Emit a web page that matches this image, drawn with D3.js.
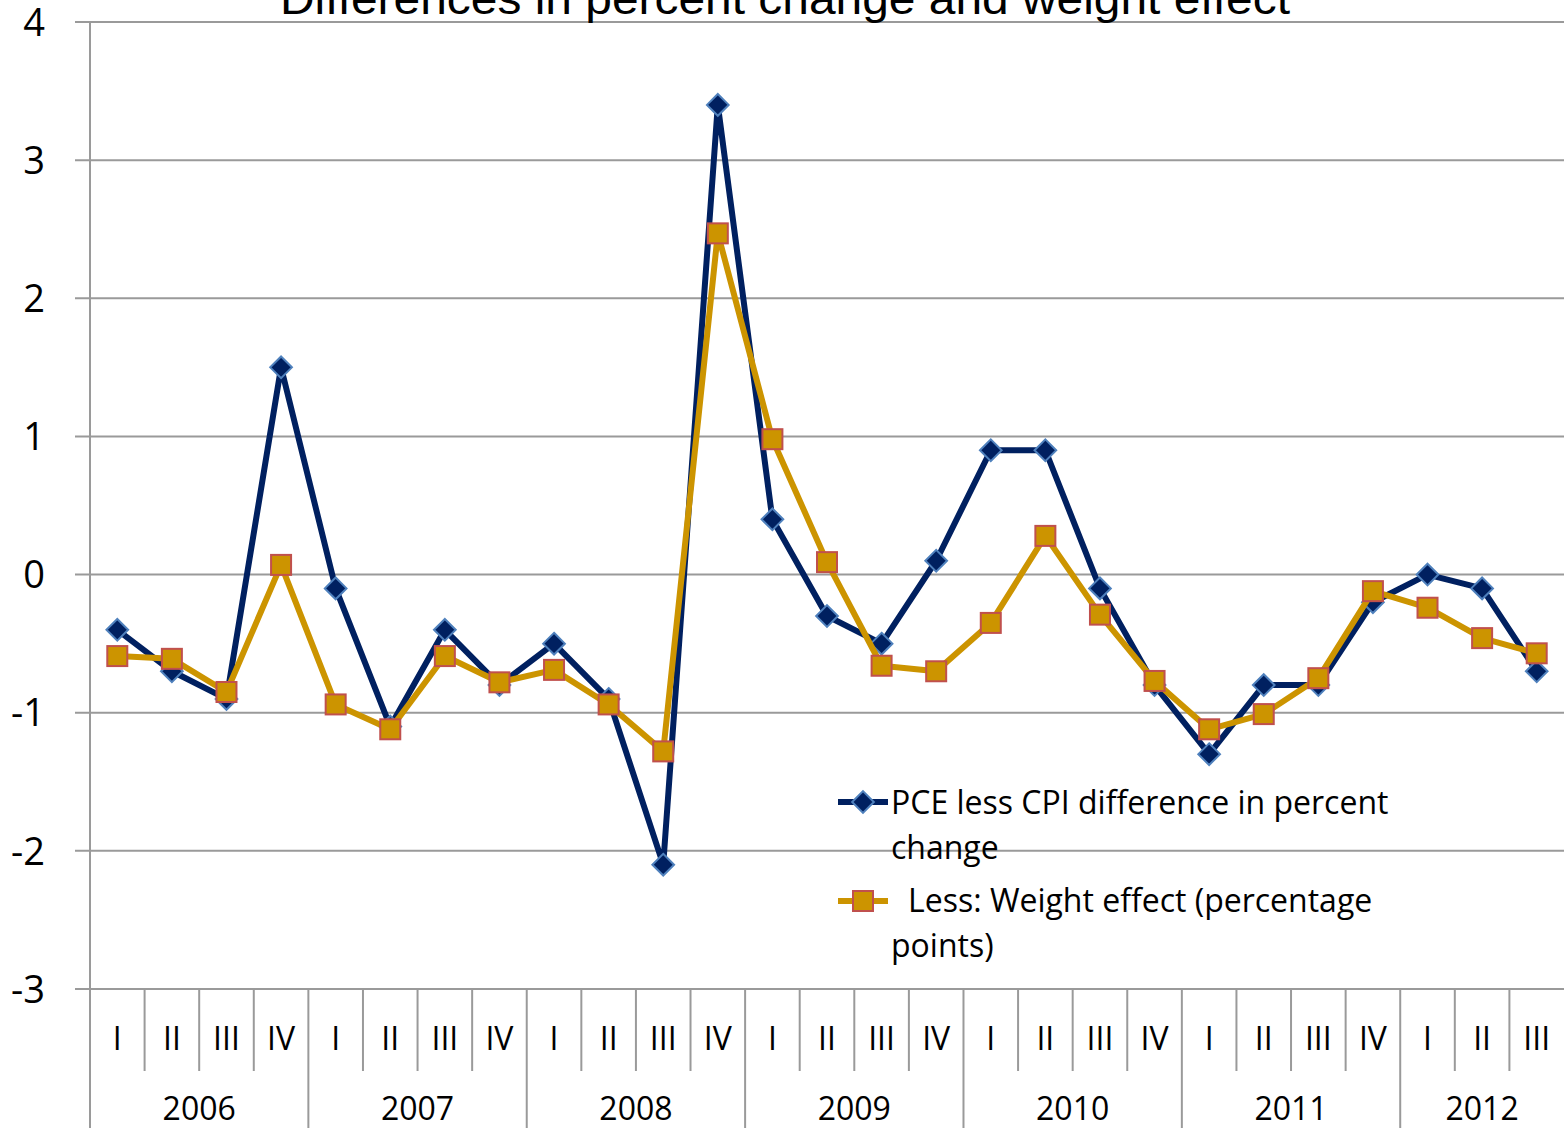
<!DOCTYPE html>
<html>
<head>
<meta charset="utf-8">
<script src="https://cdn.jsdelivr.net/npm/d3@7"></script>
<style>
  body { margin: 0; background: #fff; }
  svg { display: block; }
  .lbl { font-family: "Open Sans", Lato, sans-serif; fill: #000; }
</style>
</head>
<body>
<svg width="1564" height="1128"></svg>
<script>
// data
var years = ["2006", "2007", "2008", "2009", "2010", "2011", "2012"];
var quarters = ["I", "II", "III", "IV", "I", "II", "III", "IV", "I", "II", "III", "IV", "I", "II", "III", "IV",
                "I", "II", "III", "IV", "I", "II", "III", "IV", "I", "II", "III"];
var pceLessCpi = [-0.4, -0.7, -0.9, 1.5, -0.1, -1.1, -0.4, -0.8, -0.5, -0.9, -2.1, 3.4,
                  0.4, -0.3, -0.5, 0.1, 0.9, 0.9, -0.1, -0.8, -1.3, -0.8, -0.8, -0.2, 0.0, -0.1, -0.7];
var weightEffect = [-0.59, -0.61, -0.85, 0.07, -0.94, -1.12, -0.59, -0.78, -0.69, -0.94, -1.28, 2.47,
                    0.98, 0.09, -0.66, -0.70, -0.35, 0.28, -0.29, -0.77, -1.12, -1.01, -0.75, -0.12, -0.24, -0.46, -0.57];
var yTicks = [-3, -2, -1, 0, 1, 2, 3, 4];

var svg = d3.select("svg"),
    margin = {top: 22, right: 0, bottom: 139, left: 90},
    width = +svg.attr("width") - margin.left - margin.right,
    height = +svg.attr("height") - margin.top - margin.bottom;

var idx = d3.range(quarters.length);
var x = d3.scaleBand().domain(idx).range([0, width]);
var y = d3.scaleLinear().domain([-3, 4]).range([height, 0]);
var cx = function(i) { return x(i) + x.bandwidth() / 2; };

var g = svg.append("g")
    .attr("transform", "translate(" + margin.left + "," + margin.top + ")");

var grid = "#9a9a9a";

// gridlines with small outside ticks
g.append("g").selectAll("line")
    .data(yTicks)
    .enter().append("line")
    .attr("x1", -15).attr("x2", width)
    .attr("y1", function(d) { return y(d); })
    .attr("y2", function(d) { return y(d); })
    .attr("stroke", grid).attr("stroke-width", 2);

g.append("g").selectAll("text")
    .data(yTicks)
    .enter().append("text")
    .attr("class", "lbl")
    .attr("x", -45).attr("y", function(d) { return y(d); })
    .attr("dy", "0.36em")
    .attr("text-anchor", "end")
    .style("font-size", "38px")
    .text(function(d) { return d; });

// y axis line running down through the category labels
g.append("line")
    .attr("x1", 0).attr("x2", 0)
    .attr("y1", 0).attr("y2", height + margin.bottom)
    .attr("stroke", grid).attr("stroke-width", 2);

// quarter separators
g.append("g").selectAll("line")
    .data(idx.slice(1))
    .enter().append("line")
    .attr("x1", function(i) { return x(i); })
    .attr("x2", function(i) { return x(i); })
    .attr("y1", height)
    .attr("y2", function(i) { return i % 4 == 0 ? height + margin.bottom : height + 82; })
    .attr("stroke", grid).attr("stroke-width", 2);

g.append("g").selectAll("text")
    .data(idx)
    .enter().append("text")
    .attr("class", "lbl")
    .attr("x", cx)
    .attr("y", height + 61)
    .attr("text-anchor", "middle")
    .style("font-size", "32px")
    .text(function(i) { return quarters[i]; });

g.append("g").selectAll("text")
    .data(years)
    .enter().append("text")
    .attr("class", "lbl")
    .attr("x", function(d, k) {
        var a = k * 4, b = Math.min(a + 3, quarters.length - 1);
        return (x(a) + x(b) + x.bandwidth()) / 2;
    })
    .attr("y", height + 131)
    .attr("text-anchor", "middle")
    .style("font-size", "32px")
    .text(function(d) { return d; });

// lines
var navy = "#002060", gold = "#CC9400";
var line = function(vals) {
    return d3.line().x(function(d, i) { return cx(i); }).y(function(d) { return y(d); })(vals);
};

g.append("path").attr("d", line(pceLessCpi))
    .attr("fill", "none").attr("stroke", navy).attr("stroke-width", 6).attr("stroke-linejoin", "round");

g.append("g").selectAll("path")
    .data(pceLessCpi)
    .enter().append("path")
    .attr("d", d3.symbol().type(d3.symbolDiamond2).size(300))
    .attr("transform", function(d, i) { return "translate(" + cx(i) + "," + y(d) + ")"; })
    .attr("fill", navy).attr("stroke", "#4F81BD").attr("stroke-width", 2);

g.append("path").attr("d", line(weightEffect))
    .attr("fill", "none").attr("stroke", gold).attr("stroke-width", 6).attr("stroke-linejoin", "round");

g.append("g").selectAll("rect")
    .data(weightEffect)
    .enter().append("rect")
    .attr("x", function(d, i) { return cx(i) - 10; })
    .attr("y", function(d) { return y(d) - 10; })
    .attr("width", 20).attr("height", 20)
    .attr("fill", gold).attr("stroke", "#C0504D").attr("stroke-width", 2);

// title (clipped at top edge like original)
svg.append("text")
    .attr("x", 785).attr("y", 14)
    .attr("text-anchor", "middle")
    .attr("textLength", 1010)
    .attr("lengthAdjust", "spacingAndGlyphs")
    .style("font-family", "'Liberation Sans', Arial, sans-serif")
    .style("font-size", "44px")
    .text("Differences in percent change and weight effect");

// legend
var leg = svg.append("g");
leg.append("line").attr("x1", 838).attr("x2", 888).attr("y1", 802).attr("y2", 802)
    .attr("stroke", navy).attr("stroke-width", 6);
leg.append("path").attr("d", d3.symbol().type(d3.symbolDiamond2).size(300))
    .attr("transform", "translate(863,802)")
    .attr("fill", navy).attr("stroke", "#4F81BD").attr("stroke-width", 2);
leg.append("text").attr("class", "lbl").attr("x", 891).attr("y", 814).style("font-size", "32px")
    .text("PCE less CPI difference in percent");
leg.append("text").attr("class", "lbl").attr("x", 891).attr("y", 859).style("font-size", "32px")
    .text("change");

leg.append("line").attr("x1", 838).attr("x2", 888).attr("y1", 901).attr("y2", 901)
    .attr("stroke", gold).attr("stroke-width", 6);
leg.append("rect").attr("x", 853).attr("y", 891).attr("width", 20).attr("height", 20)
    .attr("fill", gold).attr("stroke", "#C0504D").attr("stroke-width", 2);
leg.append("text").attr("class", "lbl").attr("x", 908).attr("y", 912).style("font-size", "32px")
    .text("Less: Weight effect (percentage");
leg.append("text").attr("class", "lbl").attr("x", 891).attr("y", 957).style("font-size", "32px")
    .text("points)");
</script>
</body>
</html>
